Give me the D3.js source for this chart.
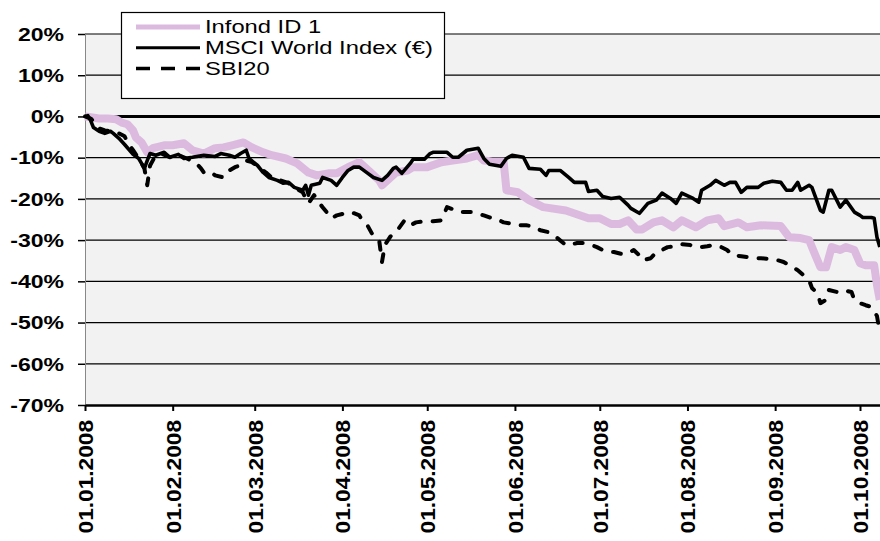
<!DOCTYPE html>
<html><head><meta charset="utf-8">
<script src="https://cdn.jsdelivr.net/npm/d3@7"></script>
<style>
body{margin:0;background:#fff;}
svg{display:block;font-family:"Liberation Sans",Arial,sans-serif;}
</style></head>
<body>
<svg id="chart" width="880" height="541"></svg>
<script>
// days since 01.01.2008, value in %
const infond = [[0,0],[2,-0.2],[5,-0.5],[8,-0.5],[11,-0.7],[13,-1.5],[15,-1.9],[17,-3.4],[18,-5.1],[20,-6.3],[22,-8.7],[24,-7.7],[28,-7.0],[31,-7.0],[35,-6.5],[38,-8.2],[42,-9.0],[46,-7.7],[49,-7.5],[52,-7.0],[56,-6.3],[59,-7.5],[63,-8.7],[66,-9.4],[71,-10.2],[75,-11.4],[79,-13.6],[82,-14.3],[86,-13.8],[89,-13.8],[93,-12.3],[97,-11.1],[101,-13.6],[104,-15.5],[105,-16.7],[108,-14.8],[110,-13.6],[114,-13.1],[116,-12.3],[121,-12.3],[126,-11.1],[130,-10.7],[135,-10.2],[139,-9.4],[141,-10.7],[144,-10.9],[148,-10.9],[149,-17.9],[153,-18.4],[157,-20.3],[162,-22.0],[170,-22.8],[178,-24.7],[182,-24.7],[186,-26.1],[189,-26.1],[192,-25.2],[195,-27.4],[197,-27.4],[201,-25.7],[204,-25.2],[208,-26.9],[211,-25.2],[216,-26.9],[220,-25.2],[224,-24.7],[226,-26.6],[231,-25.7],[234,-26.9],[239,-26.4],[246,-26.6],[249,-29.3],[253,-29.5],[256,-30.0],[257,-31.7],[260,-36.6],[262,-36.6],[264,-31.7],[267,-32.4],[269,-31.7],[272,-32.4],[274,-35.6],[276,-36.1],[279,-36.1],[280,-40.9],[281,-44.5]];
const msci = [[0,0],[1,0.2],[2,-1.0],[3,-2.7],[5,-3.6],[7,-4.1],[9,-3.6],[10,-4.1],[12,-5.3],[14,-6.8],[17,-9.2],[19,-10.2],[21,-12.6],[22,-10.7],[23,-9.0],[25,-9.4],[28,-8.7],[30,-9.9],[33,-9.2],[35,-10.2],[38,-9.9],[42,-9.4],[46,-9.7],[48,-9.0],[51,-9.4],[53,-9.9],[55,-9.0],[57,-8.2],[58,-10.2],[61,-11.9],[63,-13.6],[65,-14.8],[68,-15.5],[70,-16.2],[72,-16.0],[74,-17.2],[77,-17.9],[78,-16.7],[79,-19.1],[80,-16.7],[83,-16.2],[84,-14.8],[87,-15.5],[89,-16.7],[91,-14.8],[93,-13.1],[95,-12.3],[97,-12.3],[100,-13.8],[102,-14.8],[105,-15.5],[107,-14.3],[109,-12.6],[110,-12.3],[112,-13.8],[115,-11.4],[116,-10.4],[120,-10.4],[122,-9.0],[123,-8.7],[128,-8.7],[130,-9.9],[132,-9.9],[135,-8.2],[139,-7.7],[141,-10.2],[143,-11.6],[147,-12.1],[149,-10.2],[151,-9.4],[155,-9.9],[157,-12.6],[161,-12.8],[163,-14.3],[164,-13.1],[168,-13.1],[171,-14.8],[173,-16.0],[177,-16.0],[178,-18.2],[181,-17.9],[183,-19.4],[186,-19.9],[189,-19.6],[192,-21.5],[193,-22.3],[196,-23.5],[199,-21.1],[202,-20.3],[204,-18.6],[207,-19.9],[209,-21.1],[211,-18.6],[215,-19.9],[217,-20.8],[218,-17.9],[221,-16.7],[223,-15.5],[226,-16.7],[228,-16.0],[230,-16.0],[232,-18.4],[234,-17.2],[238,-17.2],[240,-16.2],[243,-15.7],[246,-16.0],[248,-17.9],[250,-17.9],[252,-16.0],[253,-17.9],[256,-16.7],[257,-17.2],[260,-22.8],[261,-23.2],[263,-17.9],[264,-17.9],[267,-22.0],[269,-20.3],[272,-23.2],[274,-24.0],[275,-24.5],[278,-24.5],[279,-24.7],[280,-29.3],[281,-31.7]];
const sbi = [[0,0],[2,-0.5],[4,-1.9],[5,-2.9],[7,-3.4],[10,-3.6],[12,-4.1],[14,-4.8],[15,-6.3],[17,-8.2],[19,-10.2],[21,-12.6],[22,-16.7],[23,-11.9],[25,-9.4],[27,-9.0],[30,-9.9],[33,-9.4],[36,-10.2],[39,-11.1],[41,-12.6],[42,-13.6],[44,-13.3],[46,-14.3],[49,-14.8],[51,-13.1],[53,-12.3],[56,-11.6],[57,-10.7],[59,-11.1],[61,-12.1],[64,-13.6],[66,-14.8],[69,-15.5],[72,-16.2],[74,-17.2],[77,-18.4],[78,-19.9],[79,-21.1],[81,-19.1],[82,-20.3],[84,-22.0],[86,-23.7],[87,-24.7],[89,-24.0],[92,-23.5],[94,-23.2],[97,-24.0],[98,-25.2],[100,-26.6],[102,-29.1],[104,-30.0],[105,-35.3],[106,-31.2],[108,-29.1],[110,-28.1],[111,-27.1],[113,-25.2],[115,-26.4],[117,-25.7],[120,-25.4],[123,-25.4],[126,-25.2],[128,-22.0],[130,-22.5],[132,-23.2],[134,-23.2],[137,-23.2],[139,-23.7],[141,-24.0],[143,-24.5],[145,-24.7],[148,-25.7],[150,-25.9],[153,-26.4],[156,-26.4],[158,-26.6],[161,-27.6],[164,-28.1],[165,-28.8],[167,-29.5],[170,-31.2],[171,-31.2],[174,-30.7],[176,-30.7],[179,-31.2],[181,-31.7],[183,-32.4],[185,-32.9],[187,-32.9],[190,-33.4],[192,-33.2],[194,-32.4],[196,-33.7],[197,-34.9],[200,-34.4],[202,-32.9],[204,-32.4],[206,-31.7],[209,-31.5],[211,-31.0],[214,-31.2],[216,-31.7],[218,-31.7],[220,-31.5],[222,-31.2],[225,-31.7],[227,-32.4],[229,-33.7],[232,-33.9],[234,-34.1],[237,-34.4],[239,-34.4],[242,-34.6],[245,-34.9],[247,-35.3],[249,-36.1],[252,-37.3],[254,-38.5],[256,-39.7],[257,-41.6],[259,-42.9],[260,-45.3],[262,-44.5],[263,-42.1],[266,-42.6],[268,-42.1],[271,-42.6],[272,-44.5],[274,-45.3],[276,-45.8],[278,-46.2],[280,-48.4],[281,-52.5]];
const seriesNames = ["Infond ID 1","MSCI World Index (€)","SBI20"];
const yTicks = [20,10,0,-10,-20,-30,-40,-50,-60,-70];
const xTickDates = ["2008-01-01","2008-02-01","2008-03-01","2008-04-01","2008-05-01","2008-06-01","2008-07-01","2008-08-01","2008-09-01","2008-10-01"];

const svg = d3.select("#chart");
const start = new Date(2008,0,1);
const toDate = d => d3.timeDay.offset(start, d);
const parse = s => { const p = s.split("-").map(Number); return new Date(p[0], p[1]-1, p[2]); };

const L = 85, T = 34, B = 405, Rpx = 879.8;
const x = d3.scaleTime().domain([start, toDate(281)]).range([L, Rpx]);
const y = d3.scaleLinear().domain([-70,20]).range([B, T]);

// plot background
svg.append("rect").attr("x", L).attr("y", T).attr("width", 880-L).attr("height", B-T).attr("fill","#f2f2f2");

// gridlines
svg.append("g").selectAll("line").data(yTicks.filter(v => v !== -70)).join("line")
  .attr("x1", L).attr("x2", 880).attr("y1", d => y(d)).attr("y2", d => y(d))
  .attr("stroke", "#000").attr("stroke-width", d => d === 0 ? 3 : 1.2);

// y axis
const yAxis = svg.append("g").attr("transform", `translate(${L},0)`)
  .call(d3.axisLeft(y).tickValues(yTicks).tickSize(7).tickSizeOuter(0).tickFormat(d => d + "%"));
yAxis.select(".domain").attr("stroke", "#888").attr("stroke-width", 1);
yAxis.selectAll(".tick line").attr("stroke", "#000").attr("stroke-width", 1.5);
yAxis.selectAll(".tick text").attr("x", 0).attr("dy", "0.35em").attr("text-anchor","end")
  .attr("transform", "translate(-21,0) scale(1.28,1)")
  .attr("font-size", 18).attr("font-weight", "bold").attr("fill", "#000");

// x axis
const xAxis = svg.append("g").attr("transform", `translate(0,${B})`)
  .call(d3.axisBottom(x).tickValues(xTickDates.map(parse)).tickSize(6).tickSizeOuter(0).tickFormat(d3.timeFormat("%d.%m.%Y")));
xAxis.select(".domain").attr("stroke", "#000").attr("stroke-width", 2.5);
xAxis.selectAll(".tick line").attr("stroke", "#000").attr("stroke-width", 2);
xAxis.selectAll(".tick text").attr("x", 0).attr("y", 0).attr("dy", "0.35em").attr("text-anchor","end")
  .attr("transform", "translate(0,15) rotate(-90) scale(1.08,1)")
  .attr("font-size", 21).attr("font-weight", "bold").attr("fill", "#000");

// lines
const line = d3.line().x(d => x(toDate(d[0]))).y(d => y(d[1]));
svg.append("path").datum(infond).attr("d", line).attr("fill","none").attr("stroke","#dcbadf").attr("stroke-width",8).attr("stroke-linejoin","round");
svg.append("path").datum(msci).attr("d", line).attr("fill","none").attr("stroke","#000").attr("stroke-width",3.6).attr("stroke-linejoin","round");
svg.append("path").datum(sbi).attr("d", line).attr("fill","none").attr("stroke","#000").attr("stroke-width",4).attr("stroke-dasharray","8,12").attr("stroke-linecap","round").attr("stroke-linejoin","round");

// legend
const lg = svg.append("g");
lg.append("rect").attr("x",121.5).attr("y",12.5).attr("width",323).attr("height",86).attr("fill","#fff").attr("stroke","#000").attr("stroke-width",1.2);
const styles = [
  {stroke:"#dcbadf", w:5, dash:null},
  {stroke:"#000", w:3, dash:null},
  {stroke:"#000", w:3.5, dash:"14,11"}
];
seriesNames.forEach((n,i) => {
  const cy = 27 + i*20.7;
  lg.append("line").attr("x1",136).attr("x2",200).attr("y1",cy).attr("y2",cy)
    .attr("stroke",styles[i].stroke).attr("stroke-width",styles[i].w)
    .attr("stroke-dasharray",styles[i].dash);
  lg.append("text").attr("x",0).attr("y",0).attr("dy","0.35em")
    .attr("transform",`translate(205,${cy}) scale(1.32,1)`)
    .attr("font-size",18).attr("fill","#000").text(n);
});
</script>
</body></html>
